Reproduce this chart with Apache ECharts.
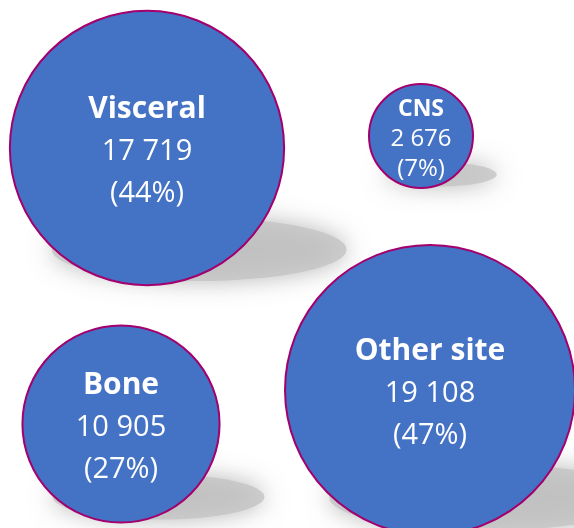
<!DOCTYPE html>
<html>
<head>
<meta charset="utf-8">
<script src="https://cdn.jsdelivr.net/npm/echarts@6/dist/echarts.min.js"></script>
<style>
	html, body { margin: 0; padding: 0; background: #fff; }
	#main { width: 574px; height: 528px; }
</style>
</head>
<body>
<div id="main"></div>
<script>
// bubble data
var sites = ['Visceral', 'CNS', 'Bone', 'Other site'];
var counts = [17719, 2676, 10905, 19108];
var percents = [44, 7, 27, 47];
// bubble centres, in pixel-like units of the plot
var posX = [147, 421, 121, 430];
var posY = [148, 136, 424, 390];

var sizeMin = 104, sizeMax = 290; // diameter range for the value scale
var vMin = Math.min.apply(null, counts), vMax = Math.max.apply(null, counts);

function diameter(v) {
	return sizeMin + (v - vMin) / (vMax - vMin) * (sizeMax - sizeMin);
}
function fmt(n) {
	return String(n).replace(/\B(?=(\d{3})+(?!\d))/g, ' ');
}

var bubbles = [];
var shadows = [];
for (var i = 0; i < sites.length; i++) {
	var r = diameter(counts[i]) / 2;
	var small = r < 70;
	bubbles.push({
		name: sites[i],
		value: [posX[i], posY[i], counts[i], percents[i]],
		label: {
			offset: [0, small ? 3 : 3],
			rich: {
				t: { fontSize: small ? 23 : 30, fontWeight: 'bold', color: '#fff', lineHeight: small ? 31 : 44, fontFamily: 'Open Sans' },
				v: { fontSize: small ? 24 : 29, color: '#fff', lineHeight: small ? 30 : 42, fontFamily: 'Open Sans' }
			}
		}
	});
	shadows.push({
		value: [posX[i] + r * 0.38, posY[i] + r * 0.74],
		symbolSize: [r * 2.15, r * 0.46]
	});
}

var myChart = echarts.init(document.getElementById('main'));
var option = {
	animation: false,
	grid: { left: 0, right: 0, top: 0, bottom: 0 },
	xAxis: { type: 'value', min: 0, max: 574, show: false },
	yAxis: { type: 'value', min: 0, max: 528, inverse: true, show: false },
	visualMap: {
		show: false,
		seriesIndex: 1,
		dimension: 2,
		min: vMin,
		max: vMax,
		inRange: { symbolSize: [sizeMin, sizeMax] }
	},
	series: [
		{
			type: 'scatter',
			clip: false,
			silent: true,
			z: 1,
			data: shadows,
			itemStyle: {
				color: '#c4c4c4',
				shadowColor: 'rgba(160,160,160,0.95)',
				shadowBlur: 24
			}
		},
		{
			type: 'scatter',
			clip: false,
			z: 2,
			data: bubbles,
			itemStyle: {
				color: '#4472C4',
				borderColor: '#A3006E',
				borderWidth: 2,
				opacity: 1
			},
			emphasis: { disabled: true },
			label: {
				show: true,
				position: 'inside',
				formatter: function(p) {
					return '{t|' + p.name + '}\n{v|' + fmt(p.value[2]) + '}\n{v|(' + p.value[3] + '%)}';
				}
			}
		}
	]
};
myChart.setOption(option);
</script>
</body>
</html>
